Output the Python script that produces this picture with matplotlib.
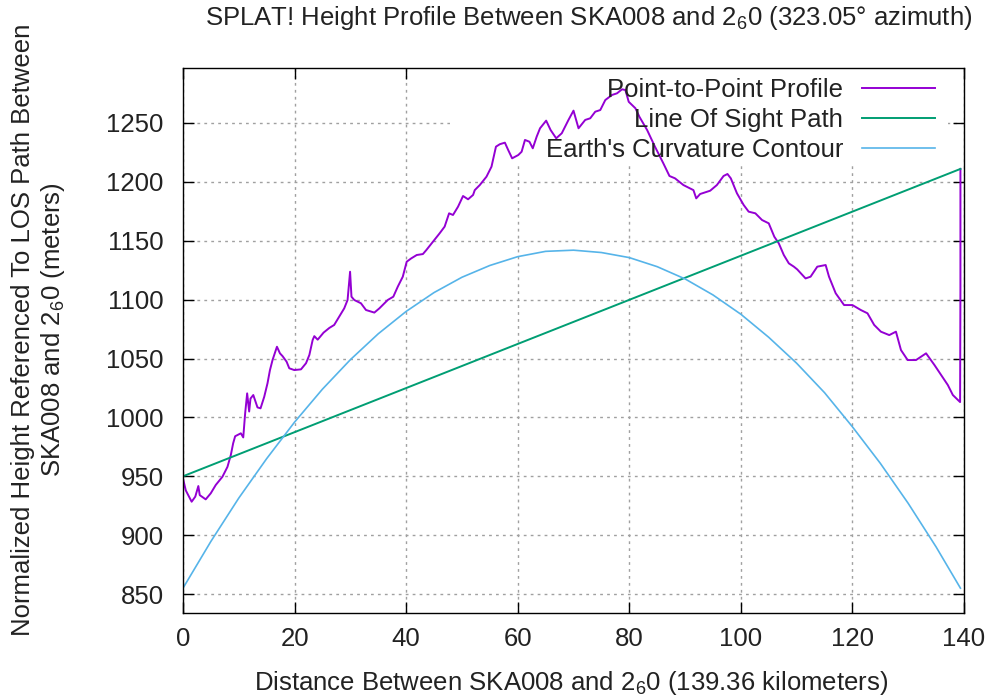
import matplotlib
matplotlib.use("Agg")
import matplotlib.pyplot as plt
from matplotlib.patches import Rectangle

plt.rcParams['font.family'] = ['Liberation Sans', 'DejaVu Sans']
plt.rcParams['mathtext.fontset'] = 'custom'
plt.rcParams['mathtext.rm'] = 'Liberation Sans'
plt.rcParams['mathtext.it'] = 'Liberation Sans'

# ---- data ----
prof_x = [0, 0.5, 1.55, 2.2, 2.75, 3.0, 4.07, 4.97, 5.87, 7.07, 7.97, 8.57, 8.99, 9.35,
          10.37, 10.8, 11.14, 11.5, 11.86, 12.1, 12.6, 13.35, 13.9, 14.56, 15.15, 15.58,
          16.05, 16.84, 17.38, 17.85, 18.57, 19.05, 19.95, 21.15, 22.05, 22.65, 23.24,
          23.54, 24.14, 25.2, 26.24, 27.1, 28.0, 28.9, 29.5, 29.95, 30.2, 30.7, 31.9, 32.8,
          34.3, 35.2, 36.7, 37.7, 38.5, 39.4, 40.1, 40.9, 41.9, 43.0, 43.6, 44.8, 46.0,
          46.9, 47.7, 48.4, 49.3, 50.2, 51.1, 52.0, 52.3, 53.2, 54.4, 55.3, 56.1, 56.8,
          57.7, 58.3, 59.0, 60.1, 60.7, 61.3, 62.1, 62.7, 63.4, 64.0, 65.1, 65.9, 66.9,
          67.9, 69.1, 70.0, 70.9, 72.1, 73.0, 73.9, 74.8, 75.7, 76.9, 77.8, 78.7, 79.3,
          79.9, 81.1, 81.8, 83.2, 84.6, 86.1, 87.2, 88.2, 89.7, 91.5, 92.0, 92.7, 94.5,
          95.7, 96.9, 97.6, 98.2, 99.3, 100.5, 101.4, 102.6, 103.8, 105.0, 106.0, 106.8,
          107.7, 108.6, 109.5, 110.1, 111.6, 112.5, 113.7, 115.2, 115.8, 117.0, 118.5,
          120.0, 121.5, 122.7, 123.9, 125.1, 126.6, 127.8, 128.7, 129.9, 131.4, 133.2,
          134.7, 135.9, 137.1, 138.0, 138.9, 139.3, 139.36, 139.36]
prof_y = [948, 938, 928.4, 932.7, 941.7, 934, 930.4, 935.5, 942.6, 949.6, 958, 968, 978, 984,
          986.5, 983, 1003.4, 1020.4, 1005, 1016, 1019, 1008.5, 1007.7, 1017.5, 1029, 1040,
          1048.7, 1060, 1054.4, 1052, 1047.3, 1041.7, 1040.2, 1040.8, 1046, 1053, 1065.7,
          1069, 1066, 1072, 1076, 1078.5, 1085.5, 1092.6, 1099.7, 1123.7, 1102.5, 1099.7,
          1096.9, 1091.2, 1089, 1092.6, 1099.7, 1102.5, 1111, 1119.5, 1132.2, 1135, 1137.9,
          1138.7, 1142, 1149.2, 1156.3, 1162, 1173.3, 1171.9, 1178.9, 1188, 1185.2, 1188.9,
          1193, 1197.3, 1204.4, 1212.9, 1229.9, 1232, 1233.3, 1227, 1220, 1222.8, 1225.6,
          1235.6, 1234.1, 1228.5, 1238.4, 1245.5, 1252, 1244, 1237, 1241.3, 1252.6, 1260.5,
          1245.5, 1252.6, 1254, 1259.6, 1261, 1269.5, 1273.8, 1275.2, 1278.6, 1278, 1268,
          1262.5, 1255.4, 1244, 1229.9, 1215.8, 1205, 1203, 1197.3, 1193, 1186, 1189.7,
          1192.5, 1197.3, 1205, 1206.7, 1203, 1190.3, 1180.4, 1174.7, 1173.3, 1167.6, 1164.8,
          1153.4, 1147.8, 1137.9, 1130.8, 1128, 1125.7, 1118, 1119.5, 1128, 1129.4, 1119.5,
          1105.4, 1095.4, 1095.4, 1091.2, 1088.4, 1078.5, 1072.8, 1069.9, 1072.8, 1057.2,
          1048.7, 1048.7, 1054.4, 1044.5, 1036, 1027.5, 1019, 1014.8, 1013, 1110, 1211]

los_x = [0, 139.36]
los_y = [950, 1211]

curv_x = [0, 5, 10, 15, 20, 25, 30, 35, 40, 45, 50, 55, 60, 65, 70, 75, 80, 85, 90, 95,
          100, 105, 110, 115, 120, 125, 130, 135, 139.36]
curv_y = [855, 894.7, 931.5, 965, 996, 1024, 1049, 1071, 1090, 1106, 1119, 1129, 1136.5,
          1141, 1142, 1140, 1135.7, 1128, 1117.6, 1104, 1087.6, 1068, 1046, 1021, 992, 961,
          927, 890, 855]

x_ticks = [0, 20, 40, 60, 80, 100, 120, 140]
y_ticks = [850, 900, 950, 1000, 1050, 1100, 1150, 1200, 1250]

labels = ["Point-to-Point Profile", "Line Of Sight Path", "Earth's Curvature Contour"]
colors = ["#9400d3", "#009e73", "#56b4e9"]

FS = 18.5
TXT = '#222222'

W, H = 989, 700
fig = plt.figure(figsize=(W / 100, H / 100), dpi=100)
L, R, T, B = 183, 964, 68, 613
ax = fig.add_axes([L / W, 1 - B / H, (R - L) / W, (B - T) / H])

ax.set_xlim(0, 140)
ax.set_ylim(833.9, 1296.7)
ax.set_xticks(x_ticks)
ax.set_yticks(y_ticks)
ax.tick_params(direction='in', length=8, width=1, top=True, right=True,
               labelsize=FS, colors='black', labelcolor=TXT)
ax.tick_params(axis='y', pad=14)
ax.tick_params(axis='x', pad=10)
ax.grid(True, color='#a0a0a0', linestyle=(0, (2, 3)), linewidth=1, zorder=0)
ax.set_axisbelow(True)
for s in ax.spines.values():
    s.set_linewidth(1)
    s.set_zorder(5)

# opaque key box (covers the grid under the legend, like gnuplot)
ax.add_patch(Rectangle((0.342, 0.823), 0.638, 0.177, transform=ax.transAxes,
                       facecolor='white', edgecolor='none', zorder=1))

h1, = ax.plot(prof_x, prof_y, color=colors[0], lw=1.4, zorder=3, label=labels[0])
h2, = ax.plot(los_x, los_y, color=colors[1], lw=1.4, zorder=3, label=labels[1])
h3, = ax.plot(curv_x, curv_y, color=colors[2], lw=1.2, zorder=3, label=labels[2])

leg = ax.legend(handles=[h1, h2, h3], loc='upper right', bbox_to_anchor=(0.963, 0.981),
                frameon=False, markerfirst=False, fontsize=FS, handlelength=2.84,
                handletextpad=0.74, labelspacing=0.22, borderaxespad=0, borderpad=0)
for t in leg.get_texts():
    t.set_color(TXT)
leg.set_zorder(4)

fig.text(589 / W, 1 - 18 / H,
         "SPLAT! Height Profile Between SKA008 and 2$_6$0 (323.05° azimuth)",
         ha='center', va='center', fontsize=FS, color=TXT)
fig.text(571 / W, 1 - 683 / H,
         "Distance Between SKA008 and 2$_6$0 (139.36 kilometers)",
         ha='center', va='center', fontsize=FS, color=TXT)
fig.text(39 / W, 1 - 330 / H,
         "Normalized Height Referenced To LOS Path Between\nSKA008 and 2$_6$0 (meters)",
         ha='center', va='center', rotation=90, fontsize=FS, color=TXT,
         multialignment='center', linespacing=1.15)

fig.savefig("out.png", dpi=100)
